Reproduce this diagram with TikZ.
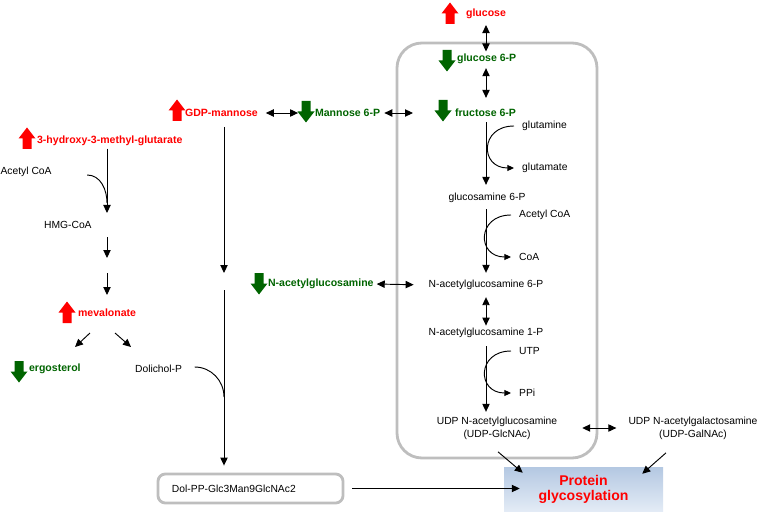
\documentclass[tikz,border=0pt]{standalone}
\usepackage{fontspec}
\setmainfont{Liberation Sans}
\usetikzlibrary{arrows.meta,calc}

\definecolor{upred}{RGB}{255,0,0}
\definecolor{downgreen}{RGB}{0,100,0}
\definecolor{cellgrey}{RGB}{190,190,190}
\definecolor{glytop}{RGB}{180,200,226}
\definecolor{glybot}{RGB}{228,236,246}

\tikzset{
  fatup/.pic={\fill[upred] (-4.5,11) -- (-4.5,0.5) -- (-8.5,0.5) -- (0,-10.5) -- (8.5,0.5) -- (4.5,0.5) -- (4.5,11) -- cycle;},
  fatdown/.pic={\fill[downgreen] (-4.5,-11) -- (-4.5,-0.5) -- (-8.5,-0.5) -- (0,10.5) -- (8.5,-0.5) -- (4.5,-0.5) -- (4.5,-11) -- cycle;}
}

\begin{document}
\begin{tikzpicture}[x=0.03cm, y=-0.03cm,
    metab/.style={font=\fontsize{8.8}{11}\selectfont, inner sep=2pt},
    leftlabel/.style={metab, anchor=west},
    sidelabel/.style={metab, anchor=west, inner xsep=0.24cm},
    uplabel/.style={leftlabel, text=upred, font=\fontsize{9}{11}\selectfont\bfseries},
    downlabel/.style={leftlabel, text=downgreen, font=\fontsize{9}{11}\selectfont\bfseries},
    convarrow/.style={line width=0.8pt, -{Triangle[length=2.4mm,width=2.2mm]}},
    revarrow/.style={line width=0.8pt, {Triangle[length=2.4mm,width=2.2mm]}-{Triangle[length=2.4mm,width=2.2mm]}},
    cosub/.style={line width=0.8pt, -{Triangle[length=2mm,width=1.8mm]}},
    cellbox/.style={draw=cellgrey, line width=2.4pt, rounded corners=0.75cm},
    dolbox/.style={metab, draw=cellgrey, line width=2.4pt, rounded corners=0.22cm,
        inner xsep=0.42cm, text width=4.71cm, align=left, minimum height=0.87cm},
    glybox/.style={top color=glytop, bottom color=glybot, text=upred, align=center,
        font=\fontsize{12}{12.8}\selectfont\bfseries, minimum width=4.77cm, minimum height=1.35cm}
]
\useasboundingbox (0,0) rectangle (763,512);

% Cell compartment
\draw[cellbox] (397,43) rectangle (597,458);

% Up / down regulation marks
\foreach \x/\y in {450/13, 177/110, 27/138, 67/312}
    \pic at (\x,\y) {fatup};
\foreach \x/\y in {447/61, 443/111, 306/112, 259/284, 19/372}
    \pic at (\x,\y) {fatdown};

% Regulated metabolites
\node[uplabel] (glc) at (463.5,14) {glucose};
\node[uplabel] (gdpman) at (182.5,113) {GDP-mannose};
\node[uplabel] (hmg3) at (34.5,141) {3-hydroxy-3-methyl-glutarate};
\node[uplabel] (meva) at (75.5,313) {mevalonate};
\node[downlabel] (g6p) at (454.5,59) {glucose 6-P};
\node[downlabel] (f6p) at (452.5,113) {fructose 6-P};
\node[downlabel] (man6p) at (312.5,113) {Mannose 6-P};
\node[downlabel] (glcnac) at (265.5,284) {N-acetylglucosamine};
\node[downlabel] (ergo) at (26.5,369) {ergosterol};

% Hexosamine pathway
\node[metab] (gcn6p) at (487,198) {glucosamine 6-P};
\node[metab] (nag6p) at (486,285) {N-acetylglucosamine 6-P};
\node[metab] (nag1p) at (486,333) {N-acetylglucosamine 1-P};
\node[metab, align=center] (udpglc) at (497,428) {UDP N-acetylglucosamine\\(UDP-GlcNAc)};
\node[metab, align=center] (udpgal) at (693,428) {UDP N-acetylgalactosamine\\(UDP-GalNAc)};
\node[sidelabel] (glutamine) at (514,126) {glutamine};
\node[sidelabel] (glutamate) at (514,168) {glutamate};
\node[sidelabel] (acoa1) at (511,215) {Acetyl CoA};
\node[sidelabel] (coa) at (511,257) {CoA};
\node[sidelabel] (utp) at (511,351) {UTP};
\node[sidelabel] (ppi) at (511,393) {PPi};

% Mevalonate / dolichol branch
\node[leftlabel] (acoa2) at (-2,172) {Acetyl CoA};
\node[leftlabel] (hmgcoa) at (41.5,225) {HMG-CoA};
\node[leftlabel] (dolp) at (132.5,369) {Dolichol-P};
\node[dolbox] (dol) at (250.5,488.5) {Dol-PP-Glc3Man9GlcNAc2};
\node[glybox] (prot) at (583.5,489.5) {Protein\\glycosylation};

% Free ends
\coordinate (col) at (486,0);
\coordinate (gdpcol) at (224,0);
\foreach \n/\x/\y in {m6pin/413/113, hmgin/107/213, acj/107/203, hmg-a/107/237, hmg-b/107/258,
    hmg-c/107/273, hmg-d/107/295, mv-a/90/333, mv-b/75/347, mv-c/115/333, mv-d/131/347,
    gdp-a/224/273, gdp-b/224/290, dolj/224/397}
    \coordinate (\n) at (\x,\y);

% Arrows
\draw[revarrow, shorten <=3pt] (glc.south -| col) -- (g6p.north -| col);
\draw[revarrow, shorten <=1.4pt, shorten >=7.4pt] (g6p.south -| col) -- (f6p.north -| col);
\draw[convarrow, shorten <=2.3pt, shorten >=4.9pt] (f6p.south -| col) -- (gcn6p.north -| col);
\draw[convarrow, shorten <=3.2pt, shorten >=4.1pt] (gcn6p.south -| col) -- (nag6p.north -| col);
\draw[revarrow, shorten <=4.1pt] (nag6p.south -| col) -- (nag1p.north -| col);
\draw[convarrow, shorten <=4.9pt, shorten >=2pt] (nag1p.south -| col) -- (udpglc.north -| col);
\draw[cosub] (glutamine.west) to[out=180, in=180, looseness=2.1] (glutamate.west);
\draw[cosub] (acoa1.west) to[out=180, in=180, looseness=2.1] (coa.west);
\draw[cosub] (utp.west) to[out=180, in=180, looseness=2.1] (ppi.west);

\draw[revarrow, shorten <=4.7pt, shorten >=12.3pt] (gdpman.east) -- (man6p.west);
\draw[revarrow, shorten <=1.4pt] (man6p.east) -- (m6pin);
\draw[revarrow, shorten <=0.5pt, shorten >=10.7pt] (glcnac.east) -- (nag6p.west);
\draw[revarrow, shorten <=19.2pt, shorten >=8.2pt] (udpglc.east) -- (udpgal.west);

\draw[convarrow] ($(udpglc.south)+(1,10)$) -- ($(prot.north west)+(19,6)$);
\draw[convarrow] ($(udpgal.south)+(-27,11)$) -- ($(prot.north east)+(-21,7)$);
\draw[convarrow, shorten <=6.8pt] (dol.east) -- ($(prot.west |- dol.east)+(16,0)$);

\draw[convarrow] (hmg3.south -| hmgin) -- (hmgin);
\draw[line width=0.8pt] ($(acoa2.east)+(33,3)$) to[out=0, in=90] (acj);
\draw[convarrow] (hmg-a) -- (hmg-b);
\draw[convarrow] (hmg-c) -- (hmg-d);
\draw[convarrow] (mv-a) -- (mv-b);
\draw[convarrow] (mv-c) -- (mv-d);

\draw[convarrow, shorten <=6.5pt] (gdpman.south -| gdpcol) -- (gdp-a);
\draw[convarrow, shorten >=6pt] (gdp-b) -- (dol.north -| gdpcol);
\draw[line width=0.8pt] ($(dolp.east)+(10,-2)$) to[out=0, in=90] (dolj);
\end{tikzpicture}
\end{document}
